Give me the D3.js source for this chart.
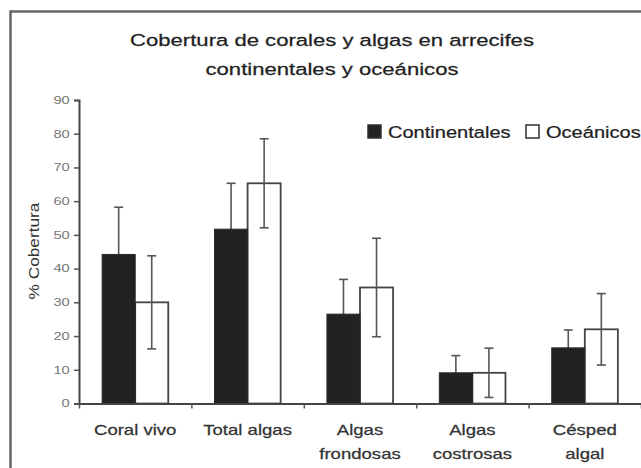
<!DOCTYPE html>
<html>
<head>
<meta charset="utf-8">
<script src="https://cdn.jsdelivr.net/npm/d3@7"></script>
<style>
  body { margin: 0; background: #fff; }
  svg { display: block; font-family: "Liberation Sans", Arial, sans-serif; }
</style>
</head>
<body>
<svg id="graph" width="641" height="468"></svg>
<script>
(function() {
// values
const categories = ['Coral vivo', 'Total algas', 'Algas frondosas', 'Algas costrosas', 'Césped algal'];
const catLines = [['Coral vivo'], ['Total algas'], ['Algas', 'frondosas'], ['Algas', 'costrosas'], ['Césped', 'algal']];
const seriesNames = ['Continentales', 'Oceánicos'];
const continental = [44.2, 51.7, 26.5, 9.1, 16.5];
const continentalErr = [14.0, 13.6, 10.3, 5.1, 5.3];
const oceanic = [30.0, 65.3, 34.4, 9.1, 22.0];
const oceanicErr = [13.8, 13.2, 14.6, 7.3, 10.6];
const yTicks = [0, 10, 20, 30, 40, 50, 60, 70, 80, 90];
const titleLines = ['Cobertura de corales y algas en arrecifes', 'continentales y oceánicos'];
const yLabel = '% Cobertura';

const svg = d3.select('#graph');
const axis_x = 79;
const right_x = 641;
const base_y = 403.5;
const top_y = 100;

// frame around chart (runs off the right/bottom edge)
svg.append('rect')
  .attr('x', 10.5).attr('y', 11.5)
  .attr('width', 700).attr('height', 500)
  .attr('fill', '#fff')
  .attr('stroke', '#666')
  .attr('stroke-width', 2.5);

const y = d3.scaleLinear().domain([0, 90]).range([base_y, top_y]);
const x0 = d3.scaleBand().domain(categories).range([axis_x, right_x]).padding(0);
const x1 = d3.scaleBand().domain(seriesNames).range([0, x0.bandwidth()])
  .paddingInner(0).paddingOuter(0.7);

// stretched text helper (source image text is wide)
function stretchText(g, x, yy, txt, size, sx, anchor, fill) {
  return g.append('text')
    .attr('transform', `translate(${x},${yy}) scale(${sx},1)`)
    .attr('text-anchor', anchor)
    .attr('font-size', size)
    .attr('fill', fill)
    .attr('stroke', fill)
    .attr('stroke-width', 0.25)
    .text(txt);
}

// title
titleLines.forEach((t, i) => {
  stretchText(svg, 332, 46 + i * 29, t, 17, 1.3, 'middle', '#222');
});

// y axis
const yAxis = svg.append('g')
  .attr('transform', `translate(${axis_x},0)`)
  .call(d3.axisLeft(y).tickValues(yTicks).tickSize(5).tickPadding(3));
yAxis.select('.domain').attr('stroke', '#444').attr('stroke-width', 2);
yAxis.selectAll('.tick line').attr('stroke', '#555').attr('stroke-width', 1.5);
yAxis.selectAll('.tick text')
  .attr('x', -6.6)
  .attr('font-size', 10.5)
  .attr('fill', '#777')
  .attr('font-family', '"Liberation Sans", Arial, sans-serif')
  .attr('transform', 'scale(1.4,1)');

// y label
svg.append('text')
  .attr('transform', 'translate(39,251) rotate(-90) scale(1.15,1)')
  .attr('text-anchor', 'middle')
  .attr('font-size', 15)
  .attr('fill', '#333')
  .text(yLabel);

// bars
const groups = svg.append('g').selectAll('g')
  .data(categories)
  .join('g')
  .attr('transform', d => `translate(${x0(d)},0)`);

// oceanic bars (white)
groups.append('rect')
  .attr('x', x1('Oceánicos'))
  .attr('y', (d, i) => y(oceanic[i]))
  .attr('width', x1.bandwidth())
  .attr('height', (d, i) => base_y - y(oceanic[i]))
  .attr('fill', '#fff')
  .attr('stroke', '#444')
  .attr('stroke-width', 1.8);

// error bars
function errBar(vals, errs, name) {
  const cx = x1(name) + x1.bandwidth() / 2;
  const eb = groups.append('g').attr('stroke', '#555').attr('stroke-width', 1.6);
  eb.append('line')
    .attr('x1', cx).attr('x2', cx)
    .attr('y1', (d, i) => y(vals[i] + errs[i]))
    .attr('y2', (d, i) => y(Math.max(0, vals[i] - errs[i])));
  eb.append('line')
    .attr('x1', cx - 4.5).attr('x2', cx + 4.5)
    .attr('y1', (d, i) => y(vals[i] + errs[i]))
    .attr('y2', (d, i) => y(vals[i] + errs[i]));
  eb.append('line')
    .attr('x1', cx - 4.5).attr('x2', cx + 4.5)
    .attr('y1', (d, i) => y(Math.max(0, vals[i] - errs[i])))
    .attr('y2', (d, i) => y(Math.max(0, vals[i] - errs[i])));
}
errBar(oceanic, oceanicErr, 'Oceánicos');
errBar(continental, continentalErr, 'Continentales');

// continental bars (dark) on top, hiding lower error half
groups.append('rect')
  .attr('x', x1('Continentales'))
  .attr('y', (d, i) => y(continental[i]))
  .attr('width', x1.bandwidth())
  .attr('height', (d, i) => base_y - y(continental[i]))
  .attr('fill', '#222')
  .attr('stroke', '#2a2a2a')
  .attr('stroke-width', 1);

// x axis with ticks at category boundaries
const boundaries = categories.map(c => x0(c)).concat([x0(categories[categories.length - 1]) + x0.bandwidth()]);
const xb = d3.scaleLinear().domain([axis_x, right_x]).range([axis_x, right_x]);
const xAxis = svg.append('g')
  .attr('transform', `translate(0,${base_y})`)
  .call(d3.axisBottom(xb).tickValues(boundaries).tickSize(5).tickSizeOuter(0).tickFormat(''));
xAxis.select('.domain').attr('stroke', '#444').attr('stroke-width', 2);
xAxis.selectAll('.tick line').attr('stroke', '#555').attr('stroke-width', 1.5);

// category labels
categories.forEach((c, i) => {
  const cx = x0(c) + x0.bandwidth() / 2;
  catLines[i].forEach((t, j) => {
    stretchText(svg, cx, 435 + j * 23.5, t, 14.5, 1.28, 'middle', '#333');
  });
});

// legend
const legend = svg.append('g');
const legendX = [368, 526];
const legendFill = ['#222', '#fff'];
seriesNames.forEach((s, i) => {
  legend.append('rect')
    .attr('x', legendX[i]).attr('y', 125)
    .attr('width', 13).attr('height', 13)
    .attr('fill', legendFill[i])
    .attr('stroke', '#333')
    .attr('stroke-width', 1.5);
  stretchText(legend, legendX[i] + 20, 138, s, 17, 1.18, 'start', '#222');
});

})();
</script>
</body>
</html>
